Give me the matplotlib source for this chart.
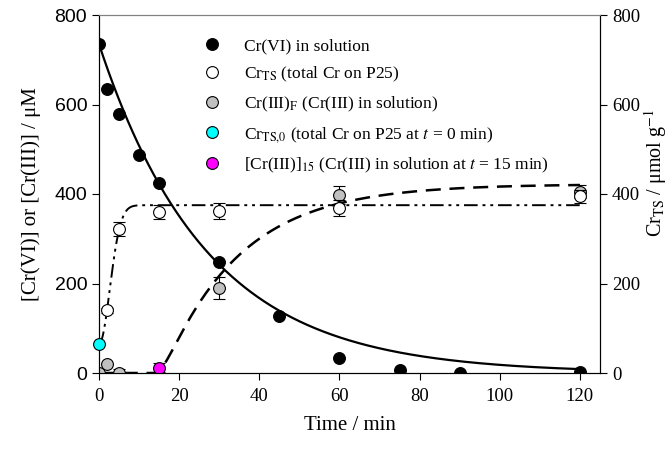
import numpy as np
import matplotlib
matplotlib.use('Agg')
import matplotlib.pyplot as plt
from matplotlib.lines import Line2D

plt.rcParams['font.family'] = ['Liberation Serif', 'DejaVu Serif']
plt.rcParams['mathtext.fontset'] = 'stix'

# Cr(VI) in solution (left axis, uM)
t_cr6 = [0, 2, 5, 10, 15, 30, 45, 60, 75, 90, 120]
cr6 = [735, 635, 578, 487, 424, 248, 127, 33, 7, 0, 2]

# Cr_TS total Cr on P25 (right axis, umol/g)
t_ts = [2, 5, 15, 30, 60, 120]
cr_ts = [140, 322, 360, 362, 368, 395]
cr_ts_err = [6, 15, 16, 18, 18, 15]

# Cr(III)_F in solution (left axis)
t_cr3 = [0, 2, 5, 30, 60, 120]
cr3 = [0, 20, 0, 190, 398, 405]
cr3_err = [0, 0, 10, 25, 20, 15]

# single points
t_ts0, cr_ts0 = [0], [65]
t_cr3_15, cr3_15 = [15], [12]
cr3_15_err = [10]

# fit parameters
cr6_a, cr6_k = 735, 0.037
ts_0, ts_inf, ts_tau = 65, 375, 3.8
c3_a, c3_k1, c3_k2, c3_t0 = 422, 0.052, 0.5, 14

t = np.linspace(0, 120, 600)
fit_cr6 = cr6_a * np.exp(-cr6_k * t)
fit_ts = ts_0 + (ts_inf - ts_0) * (1 - np.exp(-(t / ts_tau) ** 2))
s = np.clip(t - c3_t0, 0, None)
fit_cr3 = c3_a * (1 - (c3_k2 * np.exp(-c3_k1 * s) - c3_k1 * np.exp(-c3_k2 * s)) / (c3_k2 - c3_k1))

fig = plt.figure(figsize=(6.71, 4.5), dpi=100)
ax = fig.add_axes([99 / 671, 1 - 373 / 450, 501 / 671, 358 / 450])
ax2 = ax.twinx()

ax.plot(t, fit_cr6, color='black', lw=1.6, zorder=3)
ax.plot(t, fit_cr3, color='black', lw=1.8, dashes=(6, 3.5), zorder=3)
ax2.plot(t, fit_ts, color='black', lw=1.4, dashes=(7, 2.5, 1.5, 2.5, 1.5, 2.5), zorder=3)

mk = dict(marker='o', ms=8.5, mec='black', mew=0.8, ls='none')
ax.errorbar(t_cr3, cr3, yerr=cr3_err, mfc='#c0c0c0', ecolor='black', elinewidth=0.8,
            capsize=4, capthick=0.8, zorder=4, **mk)
ax.errorbar(t_cr3_15, cr3_15, yerr=cr3_15_err, mfc='magenta', ecolor='black', elinewidth=0.8,
            capsize=4, capthick=0.8, zorder=6, **mk)
ax.plot(t_cr6, cr6, mfc='black', zorder=7, **mk)
ax2.errorbar(t_ts, cr_ts, yerr=cr_ts_err, mfc='white', ecolor='black', elinewidth=0.8,
             capsize=4, capthick=0.8, zorder=5, **mk)
ax2.plot(t_ts0, cr_ts0, mfc='cyan', zorder=6, clip_on=False, **mk)

for a in (ax, ax2):
    a.set_xlim(0, 125)
    a.set_ylim(0, 800)
    a.set_yticks([0, 200, 400, 600, 800])
ax.set_xticks([0, 20, 40, 60, 80, 100, 120])
ax.tick_params(axis='x', direction='out', length=5, labelsize=13.5, pad=6)
ax.tick_params(axis='y', direction='out', length=5, labelsize=14)
for lab in ax.get_yticklabels():
    lab.set_family('Liberation Sans')
ax2.tick_params(axis='y', direction='out', length=5, labelsize=13.5)
ax.spines['top'].set_color('#808080')
ax2.spines['top'].set_color('#808080')

ax.set_xlabel('Time / min', fontsize=15, labelpad=8)
ax.set_ylabel('[Cr(VI)] or [Cr(III)] / μM', fontsize=15, labelpad=10)
ax2.set_ylabel('Cr$_{\\rm TS}$ / μmol g$^{-1}$', fontsize=14.5)
ax2.yaxis.set_label_coords(1.083, 0.56)

handles = [
    Line2D([], [], mfc='black', **mk),
    Line2D([], [], mfc='white', **mk),
    Line2D([], [], mfc='#c0c0c0', **mk),
    Line2D([], [], mfc='cyan', **mk),
    Line2D([], [], mfc='magenta', **mk),
]
labels = [
    'Cr(VI) in solution',
    'Cr$_{\\rm TS}$ (total Cr on P25)',
    'Cr(III)$_{\\rm F}$ (Cr(III) in solution)',
    'Cr$_{\\rm TS{,}0}$ (total Cr on P25 at $t$ = 0 min)',
    '[Cr(III)]$_{15}$ (Cr(III) in solution at $t$ = 15 min)',
]
leg = ax2.legend(handles, labels, loc='upper left', bbox_to_anchor=(0.178, 0.98), frameon=False,
                 fontsize=12.5, handlelength=1.0, handletextpad=1.3, labelspacing=0.62)
leg.set_zorder(10)

fig.savefig('out.png', dpi=100)
